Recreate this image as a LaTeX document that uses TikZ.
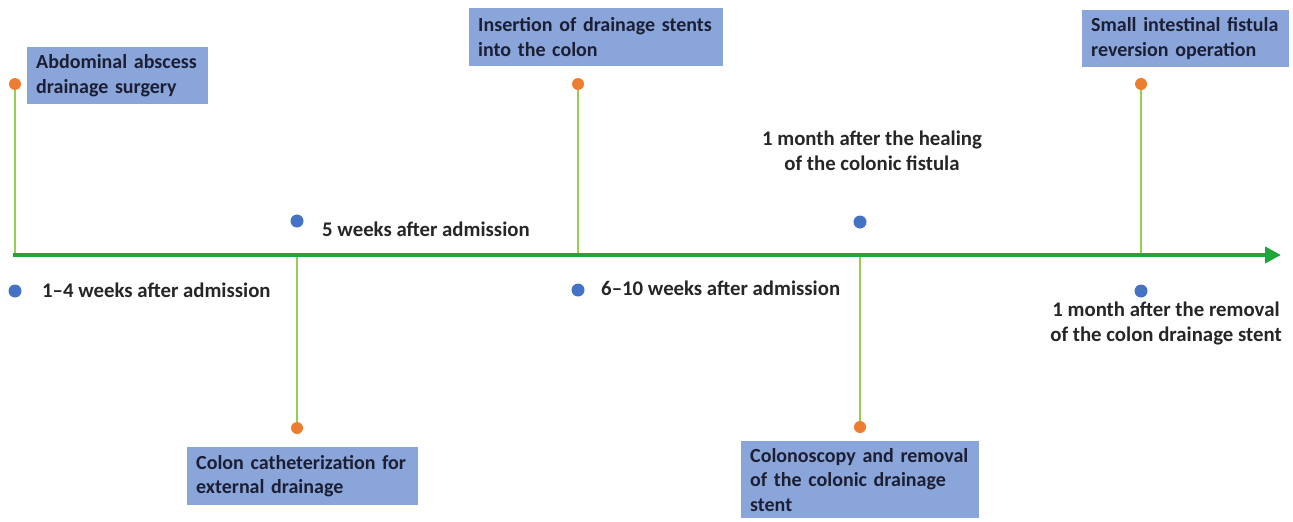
\documentclass[tikz,border=0pt]{standalone}
\usepackage{fontspec}
\setmainfont{Carlito}
\usetikzlibrary{arrows.meta}
\definecolor{boxblue}{HTML}{8AA5DA}
\definecolor{dotorange}{HTML}{ED7D31}
\definecolor{dotblue}{HTML}{4472C4}
\definecolor{axisgreen}{HTML}{1FA53A}
\definecolor{stemgreen}{HTML}{92D050}
\definecolor{txt}{HTML}{262626}
\definecolor{boxtxt}{HTML}{1C1F33}
\begin{document}
\begin{tikzpicture}[x=1pt,y=-1pt,
  every node/.style={font=\fontsize{20.8}{25}\selectfont\bfseries, text=txt},
  evbox/.style={fill=boxblue, text=boxtxt, anchor=north west, inner xsep=9pt, inner ysep=0pt,
    align=left, font=\fontsize{20}{24.5}\selectfont\bfseries},
  odot/.style={circle, fill=dotorange, inner sep=0pt, minimum size=12pt},
  bdot/.style={circle, fill=dotblue, inner sep=0pt, minimum size=13pt},
  stem/.style={draw=stemgreen, line width=2pt},
  axisline/.style={draw=axisgreen, line width=4pt, -{Triangle[length=16pt,width=16pt]}},
  lbl/.style={anchor=base west, inner sep=0pt},
  clbl/.style={align=center, inner sep=0pt, anchor=base}
]
\useasboundingbox (0,0) rectangle (1293,522);

% timeline coordinates
\coordinate (t0) at (13,255);
\coordinate (t1) at (1281,255);

% event boxes
\node[evbox, text width=163pt, minimum height=57pt] (b1) at (27,47) {\mbox{Abdominal abscess}\\\mbox{drainage surgery}};
\node[evbox, text width=213pt, minimum height=58pt] (b2) at (187,447) {\mbox{Colon catheterization for}\\\mbox{external drainage}};
\node[evbox, text width=236pt, minimum height=58pt] (b3) at (469,8) {\mbox{Insertion of drainage stents}\\\mbox{into the colon}};
\node[evbox, text width=220pt, minimum height=77pt] (b4) at (741,441) {\mbox{Colonoscopy and removal}\\\mbox{of the colonic drainage}\\\mbox{stent}};
\node[evbox, text width=189pt, minimum height=57pt] (b5) at (1082,10) {\mbox{Small intestinal fistula}\\\mbox{reversion operation}};

% orange event dots
\node[odot] (o1) at (15,84) {};
\node[odot] (o2) at (297,428) {};
\node[odot] (o3) at (578,84) {};
\node[odot] (o4) at (860,427) {};
\node[odot] (o5) at (1141,84) {};

% stems
\draw[stem] (o1.south) -- (o1 |- t0);
\draw[stem] (o2.north) -- (o2 |- t0);
\draw[stem] (o3.south) -- (o3 |- t0);
\draw[stem] (o4.north) -- (o4 |- t0);
\draw[stem] (o5.south) -- (o5 |- t0);

% main timeline
\draw[axisline] (t0) -- (t1);

% blue time dots and labels
\node[bdot] (p1) at (15,291) {};
\node[lbl] (l1) at (42,297) {1–4 weeks after admission};
\node[bdot] (p2) at (297,221) {};
\node[lbl] (l2) at (322,236) {5 weeks after admission};
\node[bdot] (p3) at (578,290) {};
\node[lbl] (l3) at (601,295) {6–10 weeks after admission};
\node[bdot] (p4) at (860,222) {};
\node[clbl] (l4) at (872,170) {1 month after the healing\\of the colonic fistula};
\node[bdot] (p5) at (1141,291) {};
\node[clbl] (l5) at (1166,341) {1 month after the removal\\of the colon drainage stent};
\end{tikzpicture}
\end{document}
